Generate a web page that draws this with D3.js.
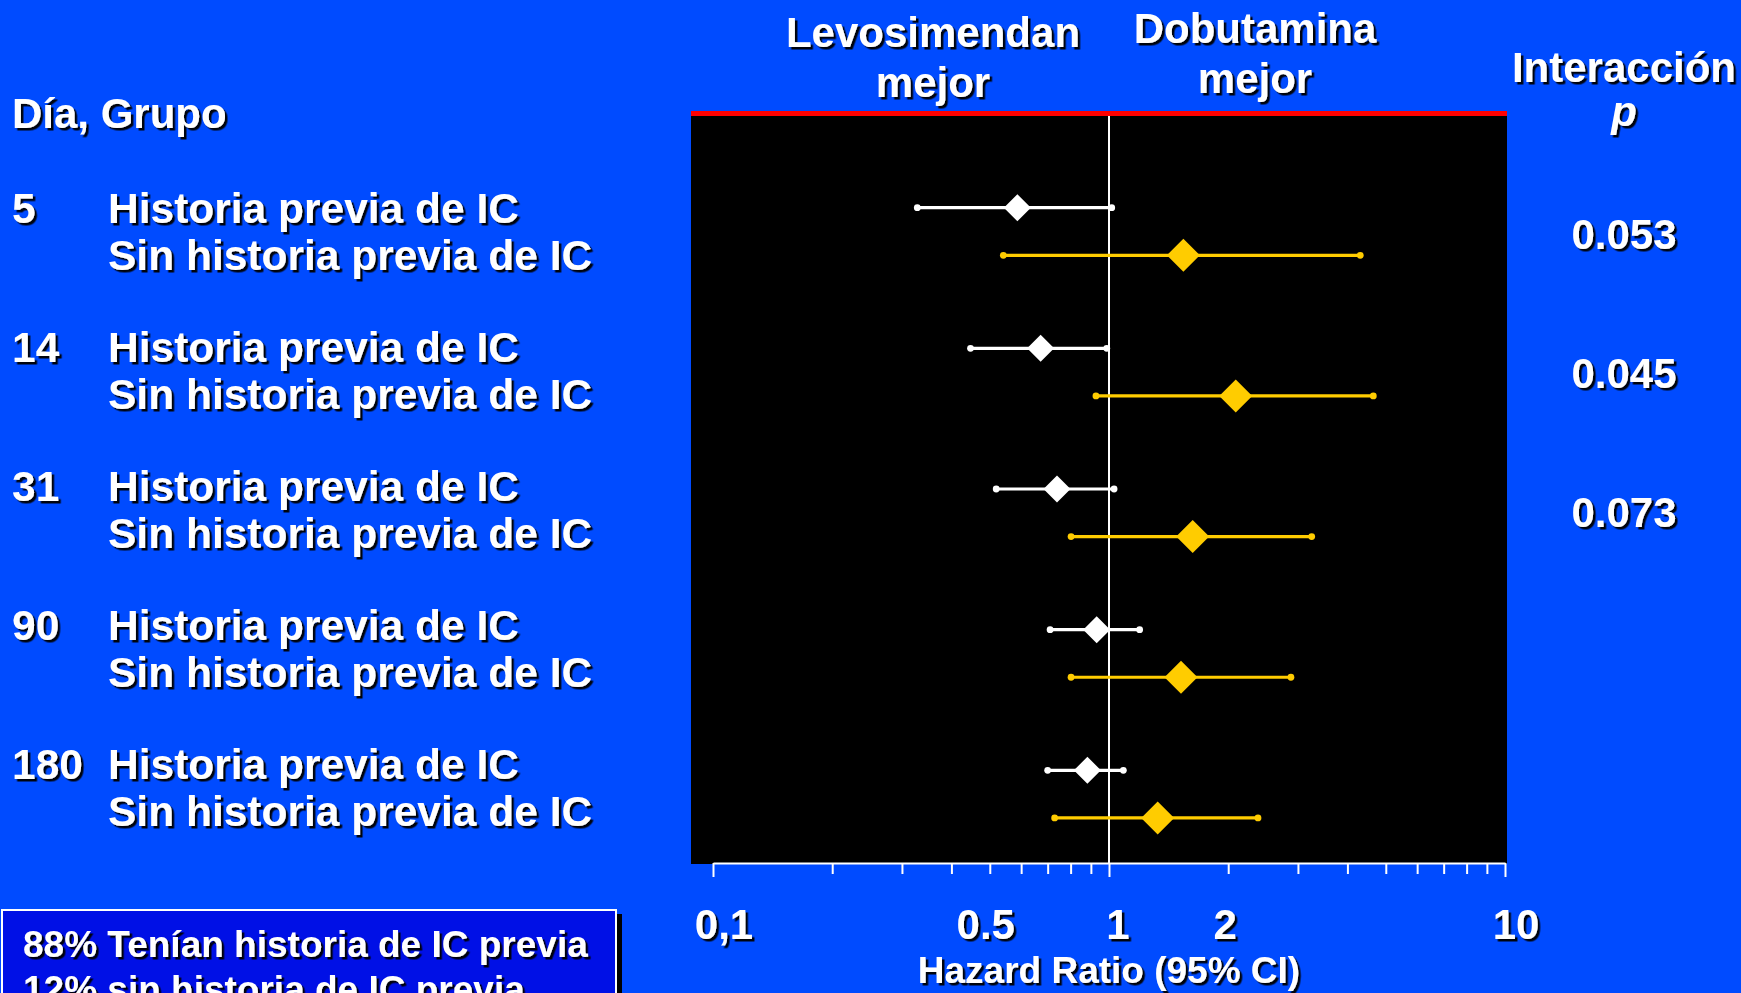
<!DOCTYPE html>
<html>
<head>
<meta charset="utf-8">
<script src="https://cdn.jsdelivr.net/npm/d3@7"></script>
<style>
  html, body { margin: 0; padding: 0; background: #004bff; overflow: hidden; }
  text { font-family: "Liberation Sans", Arial, sans-serif; font-weight: bold; fill: #fff; }
</style>
</head>
<body>
<div id="chart"></div>
<script>
// data
const days = ['5', '14', '31', '90', '180'];
const groups = ['Historia previa de IC', 'Sin historia previa de IC'];

const hrPrev = [0.587, 0.672, 0.739, 0.931, 0.882];
const loPrev = [0.328, 0.447, 0.519, 0.710, 0.700];
const hiPrev = [1.016, 0.987, 1.030, 1.195, 1.087];

const hrNone = [1.541, 2.090, 1.627, 1.520, 1.327];
const loNone = [0.541, 0.927, 0.802, 0.802, 0.729];
const hiNone = [4.310, 4.650, 3.250, 2.880, 2.378];

const pValues = ['0.053', '0.045', '0.073'];

const tickValues = [0.1, 0.5, 1, 2, 10];
const tickLabels = ['0,1', '0.5', '1', '2', '10'];

const notes = ['88% Tenían historia de IC previa', '12% sin historia de IC previa'];

const width = 1741,
      height = 993,
      panel = {left: 691, right: 1507, top: 116, bottom: 864},
      rowGap = 47.6,
      textTop = 223,
      textStep = 139.1,
      lineStep = 46.5,
      labelNudge = [11, -4, 9, -3, 11],
      white = '#ffffff',
      yellow = '#ffcc00';

const svg = d3.select('#chart').append('svg')
  .attr('width', width)
  .attr('height', height);

const defs = svg.append('defs');
defs.append('filter')
  .attr('id', 'shadow')
  .attr('x', '-10%').attr('y', '-10%')
  .attr('width', '130%').attr('height', '140%')
  .append('feDropShadow')
  .attr('dx', 2.5).attr('dy', 2.5)
  .attr('stdDeviation', 0.5)
  .attr('flood-color', '#000')
  .attr('flood-opacity', 0.95);

svg.append('rect')
  .attr('width', width).attr('height', height)
  .attr('fill', '#004bff');

const x = d3.scaleLog().domain([0.1, 10]).range([713, 1505]);
const y = d3.scaleLinear().domain([0, days.length - 1]).range([207.7, 770.3]);

// plot panel
svg.append('rect')
  .attr('x', panel.left).attr('y', panel.top)
  .attr('width', panel.right - panel.left)
  .attr('height', panel.bottom - panel.top)
  .attr('fill', '#000');

svg.append('rect')
  .attr('x', panel.left).attr('y', panel.top - 5)
  .attr('width', panel.right - panel.left)
  .attr('height', 5)
  .attr('fill', '#ff0000');

svg.append('line')
  .attr('x1', x(1)).attr('x2', x(1))
  .attr('y1', panel.top).attr('y2', panel.bottom)
  .attr('stroke', white).attr('stroke-width', 2);

// axis
const axis = svg.append('g')
  .attr('transform', `translate(0,${panel.bottom - 1})`)
  .call(d3.axisBottom(x)
    .tickValues(x.ticks())
    .tickSize(11)
    .tickSizeOuter(0)
    .tickFormat(''));

axis.select('.domain').attr('stroke', white).attr('stroke-width', 2);
axis.selectAll('.tick line')
  .attr('stroke', white).attr('stroke-width', 2)
  .attr('y2', d => [0.1, 1, 10].includes(+d.toPrecision(3)) ? 14 : 11);

// note box at bottom left (drawn before the text layer)
svg.append('rect')
  .attr('x', 8).attr('y', 914)
  .attr('width', 614).attr('height', 100)
  .attr('fill', '#000');

svg.append('rect')
  .attr('x', 2).attr('y', 910)
  .attr('width', 614).attr('height', 100)
  .attr('fill', '#0010e6')
  .attr('stroke', white).attr('stroke-width', 2);

// rows
function drawSeries(hr, lo, hi, offset, color, half) {
  let g = svg.append('g');
  let rows = hr.map((d, i) => ({hr: d, lo: lo[i], hi: hi[i], i: i}));

  g.selectAll('line')
    .data(rows)
    .enter()
    .append('line')
    .attr('x1', d => x(d.lo)).attr('x2', d => x(d.hi))
    .attr('y1', d => y(d.i) + offset).attr('y2', d => y(d.i) + offset)
    .attr('stroke', color).attr('stroke-width', 3.2);

  g.selectAll('.end')
    .data(rows.flatMap(d => [{v: d.lo, i: d.i}, {v: d.hi, i: d.i}]))
    .enter()
    .append('circle')
    .attr('class', 'end')
    .attr('cx', d => x(d.v))
    .attr('cy', d => y(d.i) + offset)
    .attr('r', 3.4)
    .attr('fill', color);

  g.selectAll('.est')
    .data(rows)
    .enter()
    .append('path')
    .attr('class', 'est')
    .attr('d', d => {
      let cx = x(d.hr), cy = y(d.i) + offset;
      return `M${cx},${cy - half}L${cx + half},${cy}L${cx},${cy + half}L${cx - half},${cy}Z`;
    })
    .attr('fill', color);
}

drawSeries(hrPrev, loPrev, hiPrev, 0, white, 13.5);
drawSeries(hrNone, loNone, hiNone, rowGap, yellow, 16.5);

// all text, with drop shadow
const textLayer = svg.append('g').attr('filter', 'url(#shadow)');

textLayer.selectAll('.tick-label')
  .data(tickValues)
  .enter()
  .append('text')
  .attr('class', 'tick-label')
  .attr('x', (d, i) => x(d) + labelNudge[i])
  .attr('y', 939)
  .attr('text-anchor', 'middle')
  .style('font-size', '42px')
  .text((d, i) => tickLabels[i]);

textLayer.append('text')
  .attr('x', x(1))
  .attr('y', 983)
  .attr('text-anchor', 'middle')
  .style('font-size', '37px')
  .text('Hazard Ratio (95% CI)');

textLayer.append('text')
  .attr('x', 12).attr('y', 128)
  .style('font-size', '42px')
  .text('Día, Grupo');

let rowText = textLayer.selectAll('.row')
  .data(days)
  .enter()
  .append('g')
  .attr('class', 'row')
  .attr('transform', (d, i) => `translate(0,${textTop + i * textStep})`);

rowText.append('text')
  .attr('x', 12)
  .style('font-size', '42.5px')
  .text(d => d);

rowText.selectAll('.grp')
  .data(groups)
  .enter()
  .append('text')
  .attr('class', 'grp')
  .attr('x', 108)
  .attr('y', (d, i) => i * lineStep)
  .style('font-size', '42.5px')
  .text(d => d);

// headers
const headers = [
  {cx: 933, y: 47, lines: ['Levosimendan', 'mejor']},
  {cx: 1255, y: 43, lines: ['Dobutamina', 'mejor']},
  {cx: 1624, y: 82, lines: ['Interacción']}
];

headers.forEach(h => {
  h.lines.forEach((t, i) => {
    textLayer.append('text')
      .attr('x', h.cx)
      .attr('y', h.y + i * 50)
      .attr('text-anchor', 'middle')
      .style('font-size', '42px')
      .text(t);
  });
});

textLayer.append('text')
  .attr('x', 1624).attr('y', 126)
  .attr('text-anchor', 'middle')
  .style('font-size', '42px')
  .style('font-style', 'italic')
  .text('p');

textLayer.selectAll('.pval')
  .data(pValues)
  .enter()
  .append('text')
  .attr('class', 'pval')
  .attr('x', 1624)
  .attr('y', (d, i) => 249 + i * textStep)
  .attr('text-anchor', 'middle')
  .style('font-size', '42px')
  .text(d => d);

textLayer.selectAll('.note')
  .data(notes)
  .enter()
  .append('text')
  .attr('class', 'note')
  .attr('x', 23)
  .attr('y', (d, i) => 957 + i * 45)
  .style('font-size', '37px')
  .text(d => d);
</script>
</body>
</html>
